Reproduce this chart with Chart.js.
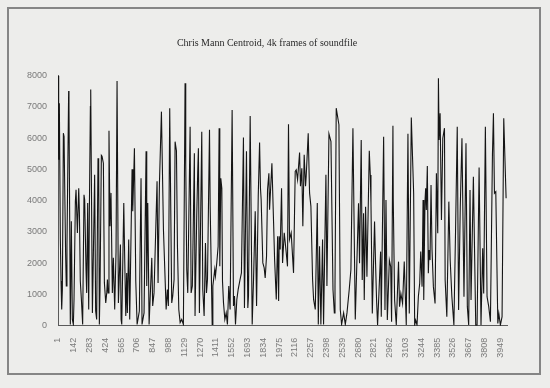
<!DOCTYPE html>
<html>
<head>
<meta charset="utf-8">
<script src="https://cdn.jsdelivr.net/npm/chart.js@4.4.1/dist/chart.umd.min.js"></script>
<style>
  html, body { margin: 0; padding: 0; background: #ededeb; }
  #wrap { position: relative; width: 550px; height: 388px; }
  #frame {
    position: absolute; left: 7px; top: 7px; width: 530px; height: 364px;
    border: 2px solid #858585;
  }
  canvas { position: absolute; left: 0; top: 0; }
</style>
</head>
<body>
<div id="wrap">
  <div id="frame"></div>
  <canvas id="centroidChart" width="550" height="388"></canvas>
</div>
<script>
// Frame numbers (x) and centroid values (y)
const frames = [
  1, 7, 13, 22, 28, 34, 40, 49, 55, 69, 75, 81, 96, 99, 111, 120, 129, 138, 144, 156,
  162, 174, 186, 192, 200, 209, 221, 233, 239, 251, 257, 266, 275, 281, 290, 293, 308, 314, 328, 337,
  346, 358, 364, 370, 376, 388, 394, 406, 415, 427, 436, 442, 448, 456, 465, 474, 486, 495, 507, 519,
  528, 540, 558, 564, 570, 588, 597, 606, 614, 620, 632, 641, 662, 668, 677, 683, 695, 707, 727, 742,
  751, 769, 787, 793, 802, 814, 823, 838, 846, 858, 885, 894, 906, 924, 942, 954, 966, 977, 986, 998,
  1016, 1025, 1037, 1046, 1058, 1067, 1079, 1091, 1105, 1120, 1132, 1135, 1141, 1150, 1159, 1180, 1189, 1200, 1218, 1224,
  1239, 1248, 1254, 1263, 1284, 1293, 1305, 1317, 1326, 1335, 1353, 1359, 1377, 1383, 1400, 1406, 1418, 1430, 1439, 1445,
  1454, 1463, 1469, 1478, 1490, 1502, 1513, 1525, 1537, 1555, 1567, 1576, 1585, 1597, 1609, 1626, 1638, 1656, 1665, 1683,
  1695, 1701, 1716, 1734, 1746, 1761, 1773, 1788, 1800, 1808, 1814, 1829, 1841, 1850, 1862, 1871, 1883, 1889, 1910, 1925,
  1934, 1949, 1961, 1970, 1975, 1984, 1996, 2005, 2020, 2038, 2049, 2058, 2067, 2082, 2103, 2118, 2127, 2139, 2157, 2165,
  2177, 2186, 2198, 2210, 2216, 2234, 2246, 2258, 2273, 2282, 2297, 2315, 2324, 2335, 2347, 2362, 2371, 2392, 2401, 2419,
  2437, 2455, 2467, 2473, 2484, 2508, 2520, 2532, 2550, 2565, 2580, 2600, 2615, 2633, 2654, 2683, 2692, 2707, 2716, 2728,
  2734, 2746, 2758, 2779, 2788, 2794, 2806, 2826, 2835, 2844, 2853, 2865, 2880, 2886, 2907, 2919, 2928, 2940, 2958, 2970,
  2978, 2990, 2993, 3005, 3020, 3040, 3049, 3061, 3076, 3091, 3109, 3124, 3136, 3154, 3175, 3184, 3193, 3205, 3217, 3229,
  3238, 3250, 3259, 3265, 3276, 3282, 3288, 3297, 3306, 3312, 3321, 3330, 3339, 3351, 3366, 3378, 3390, 3396, 3402, 3411,
  3423, 3435, 3450, 3456, 3471, 3489, 3501, 3516, 3534, 3549, 3564, 3576, 3591, 3606, 3624, 3642, 3654, 3666, 3678, 3687,
  3708, 3729, 3741, 3759, 3776, 3791, 3800, 3815, 3830, 3845, 3860, 3878, 3887, 3896, 3908, 3926, 3935, 3949, 3964, 3979,
  4000
];
const centroid = [
  8000, 5310, 7120, 2760, 1430, 520, 1160, 6160, 6050, 2280, 1270, 2540, 7510, 7010, 40, 3340, 200, 40, 840, 3980,
  4350, 2970, 4400, 3610, 1430, 890, 40, 4190, 4030, 1800, 1050, 3930, 520, 3710, 7010, 7560, 410, 1690, 4830, 470,
  200, 5360, 5200, 40, 1160, 5450, 5420, 5200, 1370, 730, 1050, 1480, 1050, 6240, 3180, 4250, 1050, 2170, 520, 2380,
  7830, 730, 2600, 200, 40, 3930, 2010, 310, 1690, 410, 2760, 200, 5010, 3660, 4830, 5680, 1430, 40, 470, 4720,
  40, 410, 5580, 1270, 3930, 40, 840, 2170, 630, 1050, 4620, 1370, 4510, 6850, 3080, 1800, 520, 1160, 630, 6960,
  730, 950, 1480, 5890, 5600, 2540, 520, 100, 200, 40, 6140, 7760, 5180, 1800, 1050, 6370, 1050, 1270, 5520, 310,
  3500, 4940, 5680, 410, 6210, 1160, 310, 2650, 1050, 1480, 6270, 3820, 40, 1270, 1800, 1590, 2010, 2540, 6320, 1900,
  4720, 4400, 1430, 730, 200, 410, 40, 1270, 520, 6900, 630, 950, 40, 840, 1160, 1480, 1690, 6020, 570, 5580,
  570, 950, 6710, 40, 1480, 3660, 630, 4140, 5860, 4400, 4030, 2010, 1850, 1530, 2220, 4350, 4880, 3710, 5200, 3290,
  2120, 840, 2860, 790, 2860, 2440, 4400, 2010, 2970, 2330, 1900, 6450, 2760, 2970, 1690, 4940, 4990, 4670, 5540, 4460,
  5040, 3180, 5470, 4460, 4780, 6160, 4250, 3820, 1480, 840, 520, 3930, 40, 2540, 40, 2760, 40, 4830, 1270, 6140,
  5890, 1160, 410, 1270, 6960, 6430, 520, 40, 410, 40, 410, 1160, 1800, 6320, 200, 3920, 2000, 5940, 1460, 3600,
  820, 3810, 1570, 5600, 4820, 3920, 390, 3330, 2000, 820, 20, 1030, 2370, 290, 6050, 500, 4020, 180, 2100, 1890,
  130, 6400, 4020, 820, 20, 2050, 610, 1030, 710, 2050, 20, 6140, 390, 6660, 4240, 20, 180, 20, 930, 1360,
  2370, 1250, 4020, 820, 3970, 4400, 3700, 5110, 1680, 2420, 2100, 4500, 2420, 1250, 710, 4880, 2960, 7920, 5940, 6800,
  3380, 6000, 6320, 1460, 290, 3970, 2100, 930, 20, 3060, 6370, 500, 3810, 6000, 930, 5840, 610, 20, 4340, 820,
  4770, 20, 20, 5060, 20, 2480, 1030, 6370, 930, 610, 130, 5460, 6800, 4240, 4290, 70, 390, 20, 290, 6640,
  4080
];
const tickFrames = [
  1, 142, 283, 424, 565, 706, 847, 988, 1129, 1270, 1411, 1552, 1693, 1834, 1975,
  2116, 2257, 2398, 2539, 2680, 2821, 2962, 3103, 3244, 3385, 3526, 3667, 3808, 3949
];
const yTicks = [0, 1000, 2000, 3000, 4000, 5000, 6000, 7000, 8000];

const points = frames.map((f, i) => ({ x: f, y: centroid[i] }));

const ctx = document.getElementById('centroidChart').getContext('2d');
new Chart(ctx, {
    type: 'line',
    data: {
        datasets: [{
            data: points,
            borderColor: '#151515',
            borderWidth: 1.1,
            pointRadius: 0,
            tension: 0,
            fill: false
        }]
    },
    options: {
        responsive: false,
        animation: false,
        // left padding keeps the title centred like the scan
        layout: { padding: { left: 27, right: 43, top: 0, bottom: 0 } },
        plugins: {
            legend: { display: false },
            tooltip: { enabled: false },
            title: {
                display: true,
                text: 'Chris Mann Centroid, 4k frames of soundfile',
                color: '#2a2a2a',
                font: { family: '"Liberation Serif", "DejaVu Serif", serif', size: 10, weight: 'normal' },
                padding: { top: 37.5, bottom: 26.2 }
            }
        },
        scales: {
            x: {
                type: 'linear',
                min: 1,
                max: 4008,
                afterBuildTicks: (scale) => { scale.ticks = tickFrames.map(v => ({ value: v })); },
                afterFit: (scale) => { scale.height = 62.3; },
                grid: { display: false, drawTicks: false },
                border: { color: '#5a5a5a', width: 1 },
                ticks: {
                    autoSkip: false,
                    maxRotation: 90,
                    minRotation: 90,
                    padding: 12,
                    color: '#7a7a7a',
                    font: { family: '"Liberation Sans", Arial, sans-serif', size: 9 },
                    callback: (v) => String(v)
                }
            },
            y: {
                min: 0,
                max: 8000,
                afterBuildTicks: (scale) => { scale.ticks = yTicks.map(v => ({ value: v })); },
                afterFit: (scale) => { scale.width = 31; },
                grid: { display: false, drawTicks: false },
                border: { color: '#5a5a5a', width: 1 },
                ticks: {
                    padding: 11,
                    color: '#7a7a7a',
                    font: { family: '"Liberation Sans", Arial, sans-serif', size: 9 },
                    callback: (v) => String(v)
                }
            }
        }
    }
});
</script>
</body>
</html>
